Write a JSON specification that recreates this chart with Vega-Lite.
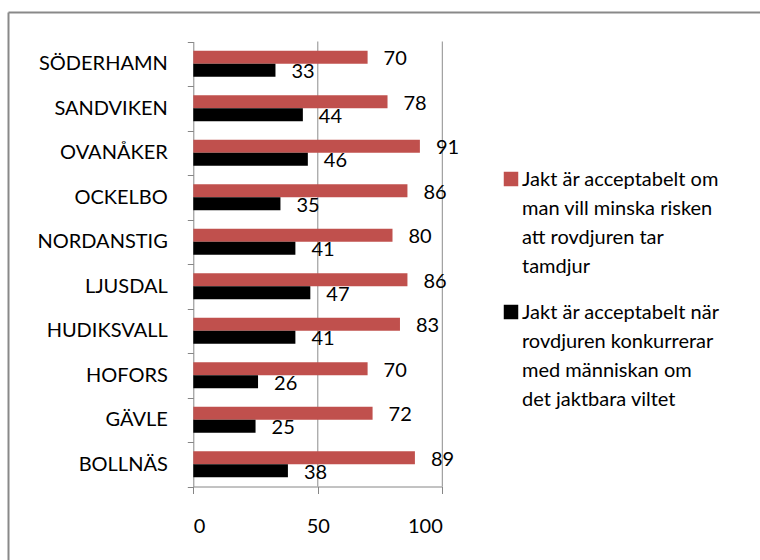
{
  "$schema": "https://vega.github.io/schema/vega-lite/v6.json",
  "width": 752,
  "height": 548,
  "autosize": {"type": "none"},
  "padding": {"left": 8, "top": 12, "right": 0, "bottom": 0},
  "config": {
    "font": "Lato",
    "view": {"stroke": null},
    "axis": {"domainColor": "#868686", "tickColor": "#868686", "labelColor": "#000000", "labelFont": "Lato", "labelFontSize": 20, "title": null}
  },
  "resolve": {"scale": {"x": "independent", "y": "independent"}, "axis": {"x": "independent", "y": "independent"}},
  "layer": [
    {
      "data": {
        "values": [
          {"kommun": "SÖDERHAMN", "serie": "Jakt är acceptabelt om man vill minska risken att rovdjuren tar tamdjur", "v": 70},
          {"kommun": "SÖDERHAMN", "serie": "Jakt är acceptabelt när rovdjuren konkurrerar med människan om det jaktbara viltet", "v": 33},
          {"kommun": "SANDVIKEN", "serie": "Jakt är acceptabelt om man vill minska risken att rovdjuren tar tamdjur", "v": 78},
          {"kommun": "SANDVIKEN", "serie": "Jakt är acceptabelt när rovdjuren konkurrerar med människan om det jaktbara viltet", "v": 44},
          {"kommun": "OVANÅKER", "serie": "Jakt är acceptabelt om man vill minska risken att rovdjuren tar tamdjur", "v": 91},
          {"kommun": "OVANÅKER", "serie": "Jakt är acceptabelt när rovdjuren konkurrerar med människan om det jaktbara viltet", "v": 46},
          {"kommun": "OCKELBO", "serie": "Jakt är acceptabelt om man vill minska risken att rovdjuren tar tamdjur", "v": 86},
          {"kommun": "OCKELBO", "serie": "Jakt är acceptabelt när rovdjuren konkurrerar med människan om det jaktbara viltet", "v": 35},
          {"kommun": "NORDANSTIG", "serie": "Jakt är acceptabelt om man vill minska risken att rovdjuren tar tamdjur", "v": 80},
          {"kommun": "NORDANSTIG", "serie": "Jakt är acceptabelt när rovdjuren konkurrerar med människan om det jaktbara viltet", "v": 41},
          {"kommun": "LJUSDAL", "serie": "Jakt är acceptabelt om man vill minska risken att rovdjuren tar tamdjur", "v": 86},
          {"kommun": "LJUSDAL", "serie": "Jakt är acceptabelt när rovdjuren konkurrerar med människan om det jaktbara viltet", "v": 47},
          {"kommun": "HUDIKSVALL", "serie": "Jakt är acceptabelt om man vill minska risken att rovdjuren tar tamdjur", "v": 83},
          {"kommun": "HUDIKSVALL", "serie": "Jakt är acceptabelt när rovdjuren konkurrerar med människan om det jaktbara viltet", "v": 41},
          {"kommun": "HOFORS", "serie": "Jakt är acceptabelt om man vill minska risken att rovdjuren tar tamdjur", "v": 70},
          {"kommun": "HOFORS", "serie": "Jakt är acceptabelt när rovdjuren konkurrerar med människan om det jaktbara viltet", "v": 26},
          {"kommun": "GÄVLE", "serie": "Jakt är acceptabelt om man vill minska risken att rovdjuren tar tamdjur", "v": 72},
          {"kommun": "GÄVLE", "serie": "Jakt är acceptabelt när rovdjuren konkurrerar med människan om det jaktbara viltet", "v": 25},
          {"kommun": "BOLLNÄS", "serie": "Jakt är acceptabelt om man vill minska risken att rovdjuren tar tamdjur", "v": 89},
          {"kommun": "BOLLNÄS", "serie": "Jakt är acceptabelt när rovdjuren konkurrerar med människan om det jaktbara viltet", "v": 38}
        ]
      },
      "encoding": {
        "y": {
          "field": "kommun", "type": "nominal", "sort": null,
          "scale": {
            "domain": ["SÖDERHAMN", "SANDVIKEN", "OVANÅKER", "OCKELBO", "NORDANSTIG", "LJUSDAL", "HUDIKSVALL", "HOFORS", "GÄVLE", "BOLLNÄS"],
            "range": [29.5, 474.5], "paddingInner": 0, "paddingOuter": 0
          },
          "axis": {"orient": "left", "offset": -185.3, "tickBand": "extent", "tickSize": 6, "labelPadding": 20}
        }
      },
      "layer": [
        {
          "data": {"values": [{"g": 50}, {"g": 100}]},
          "mark": {"type": "rule", "color": "#8c8c8c", "strokeWidth": 1},
          "encoding": {
            "x": {"field": "g", "type": "quantitative", "scale": {"domain": [0, 100], "range": [185.3, 434.3]}},
            "y": {"datum": "SÖDERHAMN", "bandPosition": 0},
            "y2": {"datum": "BOLLNÄS", "bandPosition": 1}
          }
        },
        {
          "mark": {"type": "bar"},
          "encoding": {
            "x": {
              "field": "v", "type": "quantitative",
              "scale": {"domain": [0, 100], "range": [185.3, 434.3]},
              "axis": {"orient": "bottom", "values": [0, 50, 100], "offset": -73.5, "tickSize": 7, "labelPadding": 23, "grid": false}
            },
            "yOffset": {"field": "serie", "type": "nominal", "sort": null, "scale": {"paddingInner": 0, "paddingOuter": 0.71}},
            "color": {
              "field": "serie", "type": "nominal", "sort": null,
              "scale": {"range": ["#C0504D", "#000000"]},
              "legend": {
                "title": null, "orient": "none", "legendX": 493, "legendY": 157,
                "symbolType": "square", "symbolSize": 210, "symbolStrokeWidth": 0,
                "labelFont": "Lato", "labelFontSize": 20, "labelColor": "#000000", "labelOffset": 1,
                "labelBaseline": "top", "labelLimit": 0, "rowPadding": 25, "padding": 0,
                "labelExpr": "datum.label == 'Jakt är acceptabelt om man vill minska risken att rovdjuren tar tamdjur' ? ['Jakt är acceptabelt om', 'man vill minska risken', 'att rovdjuren tar', 'tamdjur'] : ['Jakt är acceptabelt när', 'rovdjuren konkurrerar', 'med människan om', 'det jaktbara viltet']",
                "encode": {"labels": {"update": {"lineHeight": {"value": 29}, "dy": {"value": -9}}}}
              }
            }
          }
        },
        {
          "mark": {"type": "text", "align": "left", "baseline": "middle", "dx": 16, "dy": 2, "fontSize": 20, "font": "Lato", "color": "#000000"},
          "encoding": {
            "x": {"field": "v", "type": "quantitative"},
            "yOffset": {"field": "serie", "type": "nominal", "sort": null},
            "text": {"field": "v", "type": "quantitative"}
          }
        }
      ]
    },
    {
      "data": {"values": [{"b": 0}]},
      "mark": {"type": "point", "opacity": 0},
      "encoding": {
        "x": {"field": "b", "type": "quantitative", "scale": {"domain": [0, 1]},
              "axis": {"orient": "top", "domain": true, "domainColor": "#898989", "domainWidth": 2, "ticks": false, "labels": false, "grid": false}},
        "y": {"field": "b", "type": "quantitative", "scale": {"domain": [0, 1]},
              "axis": {"orient": "left", "domain": true, "domainColor": "#898989", "domainWidth": 2, "ticks": false, "labels": false, "grid": false}}
      }
    }
  ]
}
